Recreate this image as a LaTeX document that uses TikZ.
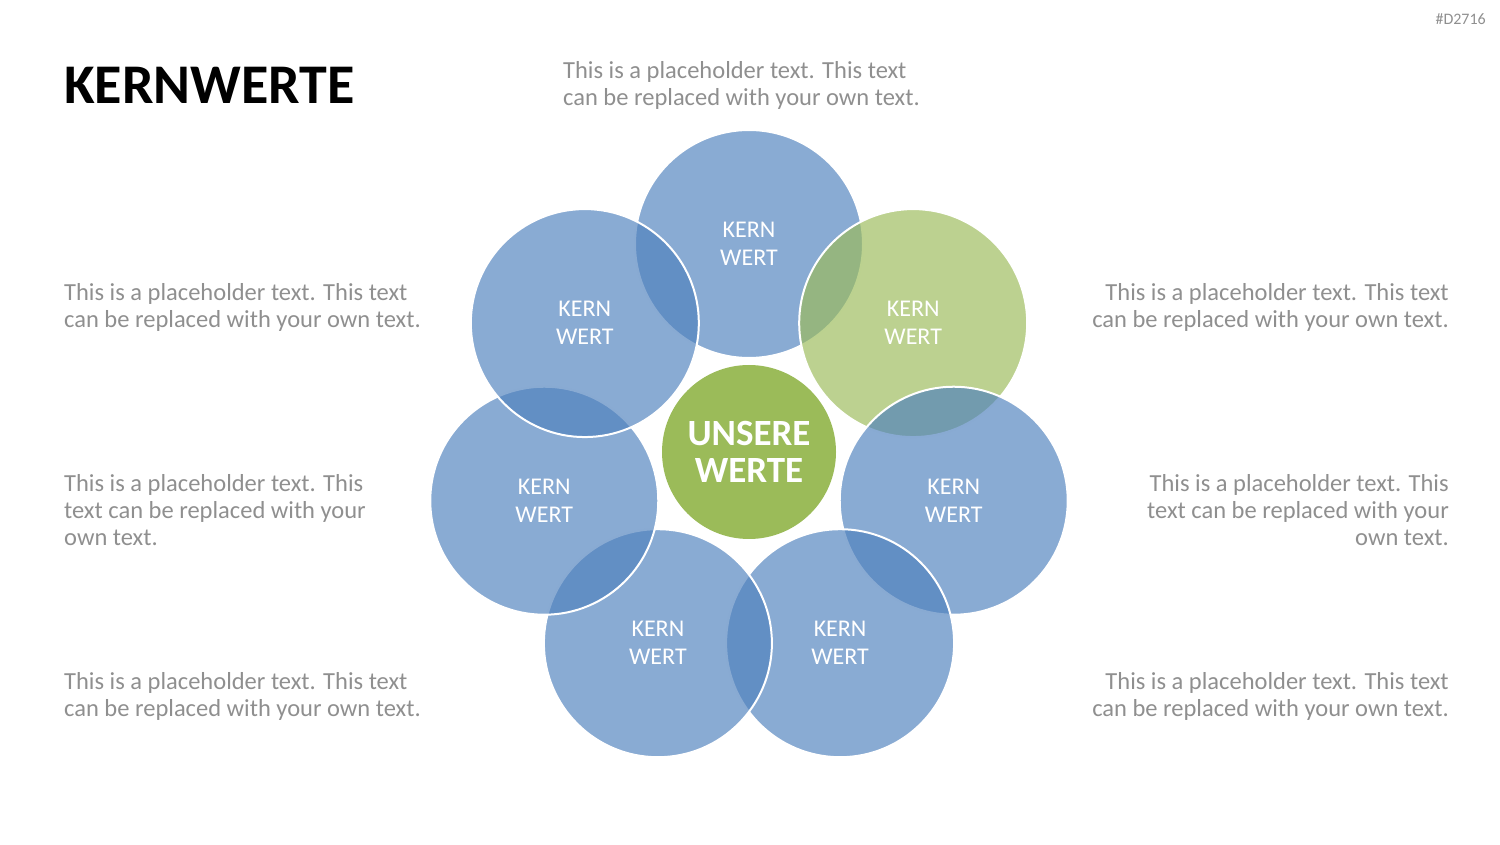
\documentclass[tikz,border=0pt]{standalone}
\usepackage{fontspec}
\setmainfont{Carlito}
\usetikzlibrary{calc, positioning}

\tikzset{
  kernwert/.style={circle, minimum size=228pt, inner sep=0pt, draw=white, line width=2pt,
    fill opacity=0.67, text opacity=1, text=white, align=center,
    font=\fontsize{24}{28}\selectfont},
  platzhalter/.style={inner sep=0pt, text=textColour, font=\fontsize{24.5}{27}\selectfont}
}

\begin{document}
\begin{tikzpicture}[x=1pt, y=1pt]

    % Define the ring radius and the centre of the ring
    \def\ringRadius{210}
    \coordinate (ZM) at (749,390);

    \definecolor{blau}{HTML}{4F81BD}
    \definecolor{gruen}{HTML}{9BBB59}
    \definecolor{textColour}{HTML}{8F8F8F}

    % Fix the frame
    \useasboundingbox (0,0) rectangle (1500,844);

    % Title and tag
    \node[anchor=base west, inner sep=0pt, font=\fontsize{56}{62}\selectfont\bfseries] (titel) at (64,740) {KERNWERTE};
    \node[anchor=base east, inner sep=0pt, text=textColour, font=\fontsize{16}{18}\selectfont] (tag) at (1486,819) {\#D2716};

    % Draw the ring of values, clockwise from the top
    \foreach \i/\farbe in {0/blau,1/gruen,2/blau,3/blau,4/blau,5/blau,6/blau}
        \node[kernwert, fill=\farbe] (kw\i) at ($(ZM)+({90-\i*360/7}:\ringRadius)$) {KERN\\WERT};

    % Draw the centre
    \node[circle, minimum size=174pt, inner sep=0pt, fill=gruen, text=white, align=center,
      font=\fontsize{37}{37}\selectfont\bfseries] (mitte) at ($(ZM)+(0,2)$) {UNSERE\\WERTE};

    % Placeholder texts (anchored at the last line)
    \node[platzhalter, anchor=base west, align=left] (oben) at (563,738)
        {This is a placeholder text. This text\\can be replaced with your own text.};
    \node[platzhalter, anchor=base west, align=left] (links1) at (64,516)
        {This is a placeholder text. This text\\can be replaced with your own text.};
    \node[platzhalter, anchor=base west, align=left] (links2) at (64,298)
        {This is a placeholder text. This\\text can be replaced with your\\own text.};
    \node[platzhalter, anchor=base west, align=left] (links3) at (64,128)
        {This is a placeholder text. This text\\can be replaced with your own text.};
    \node[platzhalter, anchor=base east, align=right] (rechts1) at (1449,516)
        {This is a placeholder text. This text\\can be replaced with your own text.};
    \node[platzhalter, anchor=base east, align=right] (rechts2) at (1449,298)
        {This is a placeholder text. This\\text can be replaced with your\\own text.};
    \node[platzhalter, anchor=base east, align=right] (rechts3) at (1449,128)
        {This is a placeholder text. This text\\can be replaced with your own text.};

\end{tikzpicture}
\end{document}
